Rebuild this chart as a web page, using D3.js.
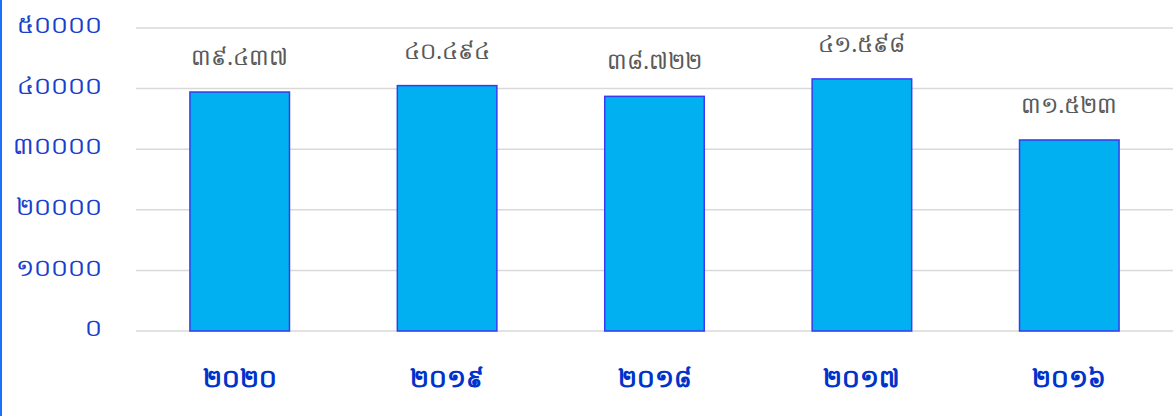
<!DOCTYPE html>
<html>
<head>
<meta charset="utf-8">
<script src="https://cdn.jsdelivr.net/npm/d3@7"></script>
<style>
  body { margin: 0; background: #fff; }
  svg { display: block; font-family: "Noto Sans", "DejaVu Sans", sans-serif; }
</style>
</head>
<body>
<div id="content"></div>
<script>
// Data
const years = ['២០២០', '២០១៩', '២០១៨', '២០១៧', '២០១៦'];
const values = [39437, 40494, 38722, 41598, 31523];
const valueLabels = ['៣៩.៤៣៧', '៤០.៤៩៤', '៣៨.៧២២', '៤១.៥៩៨', '៣១.៥២៣'];
const yTicks = [0, 10000, 20000, 30000, 40000, 50000];

const khmerDigits = '០១២៣៤៥៦៧៨៩';
const toKhmer = n => String(n).replace(/[0-9]/g, d => khmerDigits[+d]);

const width = 1174, height = 416;
const plotLeft = 136, plotRight = 1173, plotTop = 28, plotBottom = 331;

const svg = d3.select('#content')
    .append('svg')
    .attr('width', width)
    .attr('height', height);

// left frame line
svg.append('line')
    .attr('x1', 1).attr('x2', 1)
    .attr('y1', 0).attr('y2', height)
    .attr('stroke', '#1f6fff')
    .attr('stroke-width', 2);

const xScale = d3.scaleBand()
    .domain(years)
    .range([plotLeft, plotRight])
    .paddingInner(0.52)
    .paddingOuter(0.26);

const yScale = d3.scaleLinear()
    .domain([0, 50000])
    .range([plotBottom, plotTop]);

// grid lines
svg.append('g')
    .selectAll('line')
    .data(yTicks)
    .enter()
    .append('line')
    .attr('x1', plotLeft)
    .attr('x2', plotRight)
    .attr('y1', d => yScale(d))
    .attr('y2', d => yScale(d))
    .attr('stroke', '#d9d9d9')
    .attr('stroke-width', 1.5);

// y axis labels
const yAxis = d3.axisLeft(yScale)
    .tickValues(yTicks)
    .tickSize(0)
    .tickPadding(0)
    .tickFormat(toKhmer);
const gy = svg.append('g')
    .attr('transform', `translate(102, -3)`)
    .call(yAxis);
gy.select('.domain').remove();
gy.selectAll('text')
    .attr('fill', '#1a3fcc')
    .style('font-size', '24px')
    .style('font-family', '"Noto Sans", sans-serif');

// bars
svg.selectAll('rect.bar')
    .data(values)
    .enter()
    .append('rect')
    .attr('class', 'bar')
    .attr('x', (d, i) => xScale(years[i]))
    .attr('y', d => yScale(d))
    .attr('width', xScale.bandwidth())
    .attr('height', d => plotBottom - yScale(d))
    .attr('fill', '#00b0f0')
    .attr('stroke', '#3a3af0')
    .attr('stroke-width', 1.5);

// value labels
svg.selectAll('text.val')
    .data(values)
    .enter()
    .append('text')
    .attr('class', 'val')
    .attr('x', (d, i) => xScale(years[i]) + xScale.bandwidth() / 2)
    .attr('y', d => yScale(d) - 27)
    .attr('text-anchor', 'middle')
    .attr('fill', '#595959')
    .style('font-size', '23px')
    .text((d, i) => valueLabels[i]);

// x axis labels
const xAxis = d3.axisBottom(xScale).tickSize(0).tickPadding(0);
const gx = svg.append('g')
    .attr('transform', `translate(0, 369)`)
    .call(xAxis);
gx.select('.domain').remove();
gx.selectAll('text')
    .attr('fill', '#0033cc')
    .style('font-size', '25px')
    .style('font-weight', 'bold')
    .style('font-family', '"Noto Sans", sans-serif');
</script>
</body>
</html>
